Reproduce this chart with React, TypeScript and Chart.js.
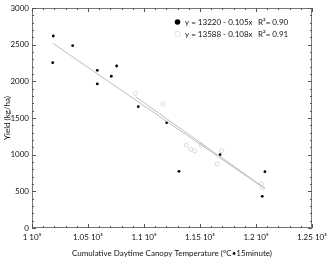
import React, { useEffect, useRef } from "react";
import { Chart, registerables } from "chart.js";

Chart.register(...registerables);

const blackX = [101900, 101850, 103630, 105830, 105830, 107080, 107560, 109490, 112030, 113120, 116790, 120800, 120560];
const blackY = [2618, 2254, 2486, 2150, 1964, 2069, 2209, 1654, 1436, 773, 1000, 768, 432];

const whiteX = [109230, 111700, 113780, 114170, 114520, 115120, 116520, 116930, 120500, 120560];
const whiteY = [1836, 1691, 1132, 1073, 1050, 1128, 873, 1054, 605, 550];

const fit1X = [101850, 120800];
const fit1Y = [2520, 536];
const fit2X = [109250, 120550];
const fit2Y = [1790, 568];

const legendLabels = ["y = 13220 - 0.105x", "y = 13588 - 0.108x"];
const legendR2 = ["R\u00B2= 0.90", "R\u00B2= 0.91"];

const yTitle = "Yield (kg/ha)";
const xTitle = "Cumulative Daytime Canopy Temperature (\u00B0C\u202215minute)";

const FONT = "Lato";

const toPts = (xs: number[], ys: number[]) => xs.map((x, i) => ({ x, y: ys[i] }));

const framePlugin = {
  id: "frameTicks",
  afterDatasetsDraw(chart: any) {
    const { ctx, chartArea: a, scales } = chart;
    const xs = scales.x;
    const ys = scales.y;
    ctx.save();
    ctx.strokeStyle = "#777";
    ctx.lineWidth = 1;
    ctx.strokeRect(a.left + 0.5, a.top + 0.5, a.right - a.left - 1, a.bottom - a.top - 1);
    ctx.strokeStyle = "#555";
    ctx.beginPath();
    for (let v = 0; v <= 3000; v += 100) {
      const py = Math.round(ys.getPixelForValue(v)) + 0.5;
      const len = v % 500 === 0 ? 4 : 2;
      ctx.moveTo(a.left, py);
      ctx.lineTo(a.left + len, py);
      ctx.moveTo(a.right, py);
      ctx.lineTo(a.right - len, py);
    }
    for (let v = 100000; v <= 125000; v += 1000) {
      const px = Math.round(xs.getPixelForValue(v)) + 0.5;
      const len = v % 5000 === 0 ? 4 : 2;
      ctx.moveTo(px, a.bottom);
      ctx.lineTo(px, a.bottom - len);
      ctx.moveTo(px, a.top);
      ctx.lineTo(px, a.top + len);
    }
    ctx.stroke();
    ctx.restore();
  },
  afterDraw(chart: any) {
    const { ctx } = chart;
    ctx.save();
    ctx.font = `8px ${FONT}`;
    ctx.textBaseline = "middle";
    const rows = [22, 34];
    rows.forEach((ry, i) => {
      ctx.beginPath();
      ctx.arc(177.5, ry, 2.8, 0, Math.PI * 2);
      if (i === 0) {
        ctx.fillStyle = "#000";
        ctx.fill();
      } else {
        ctx.fillStyle = "#fff";
        ctx.fill();
        ctx.strokeStyle = "#ddd";
        ctx.lineWidth = 0.8;
        ctx.stroke();
      }
      ctx.fillStyle = "#111";
      ctx.fillText(legendLabels[i], 185, ry);
      ctx.fillText(legendR2[i], 258, ry);
    });
    ctx.restore();
  },
};

export default function App() {
  const ref = useRef<HTMLCanvasElement | null>(null);
  useEffect(() => {
    document.body.style.margin = "0";
    const chart = new Chart(ref.current as HTMLCanvasElement, {
      type: "scatter",
      data: {
        datasets: [
          {
            type: "line",
            data: toPts(fit1X, fit1Y),
            borderColor: "#bdbdbd",
            borderWidth: 1,
            pointRadius: 0,
            fill: false,
          } as any,
          {
            type: "line",
            data: toPts(fit2X, fit2Y),
            borderColor: "#bdbdbd",
            borderWidth: 1,
            pointRadius: 0,
            fill: false,
          } as any,
          {
            data: toPts(whiteX, whiteY),
            pointRadius: 2,
            pointBackgroundColor: "#fff",
            pointBorderColor: "#d0d0d0",
            pointBorderWidth: 0.8,
          },
          {
            data: toPts(blackX, blackY),
            pointRadius: 1.4,
            pointBackgroundColor: "#000",
            pointBorderColor: "#000",
            pointBorderWidth: 0,
          },
        ],
      },
      options: {
        animation: false,
        responsive: false,
        maintainAspectRatio: false,
        layout: { padding: { left: 0, top: 8, right: 23, bottom: 0 } },
        plugins: { legend: { display: false }, tooltip: { enabled: false } },
        scales: {
          x: {
            type: "linear",
            min: 100000,
            max: 125000,
            afterFit: (s: any) => {
              s.height = 30;
            },
            grid: { display: false, drawTicks: false },
            border: { display: false },
            ticks: {
              stepSize: 5000,
              padding: 5,
              color: "#111",
              font: { family: FONT, size: 8 },
              maxRotation: 0,
              callback: (v: any) => `${+(Number(v) / 100000).toFixed(2)} 10\u2075`,
            },
            title: {
              display: true,
              text: xTitle,
              color: "#111",
              font: { family: FONT, size: 8 },
              padding: { top: 1, bottom: 0 },
            },
          },
          y: {
            type: "linear",
            min: 0,
            max: 3000,
            afterFit: (s: any) => {
              s.width = 32;
            },
            grid: { display: false, drawTicks: false },
            border: { display: false },
            ticks: {
              stepSize: 500,
              padding: 3,
              color: "#111",
              font: { family: FONT, size: 8 },
              callback: (v: any) => String(v),
            },
            title: {
              display: true,
              text: yTitle,
              color: "#111",
              font: { family: FONT, size: 8 },
              padding: { top: 3, bottom: 0 },
            },
          },
        },
      } as any,
      plugins: [framePlugin],
    });
    return () => chart.destroy();
  }, []);
  return (
    <div style={{ position: "absolute", left: 0, top: 0, width: 335, height: 258, background: "#fff" }}>
      <canvas ref={ref} width={335} height={258} style={{ width: 335, height: 258, display: "block" }} />
    </div>
  );
}
